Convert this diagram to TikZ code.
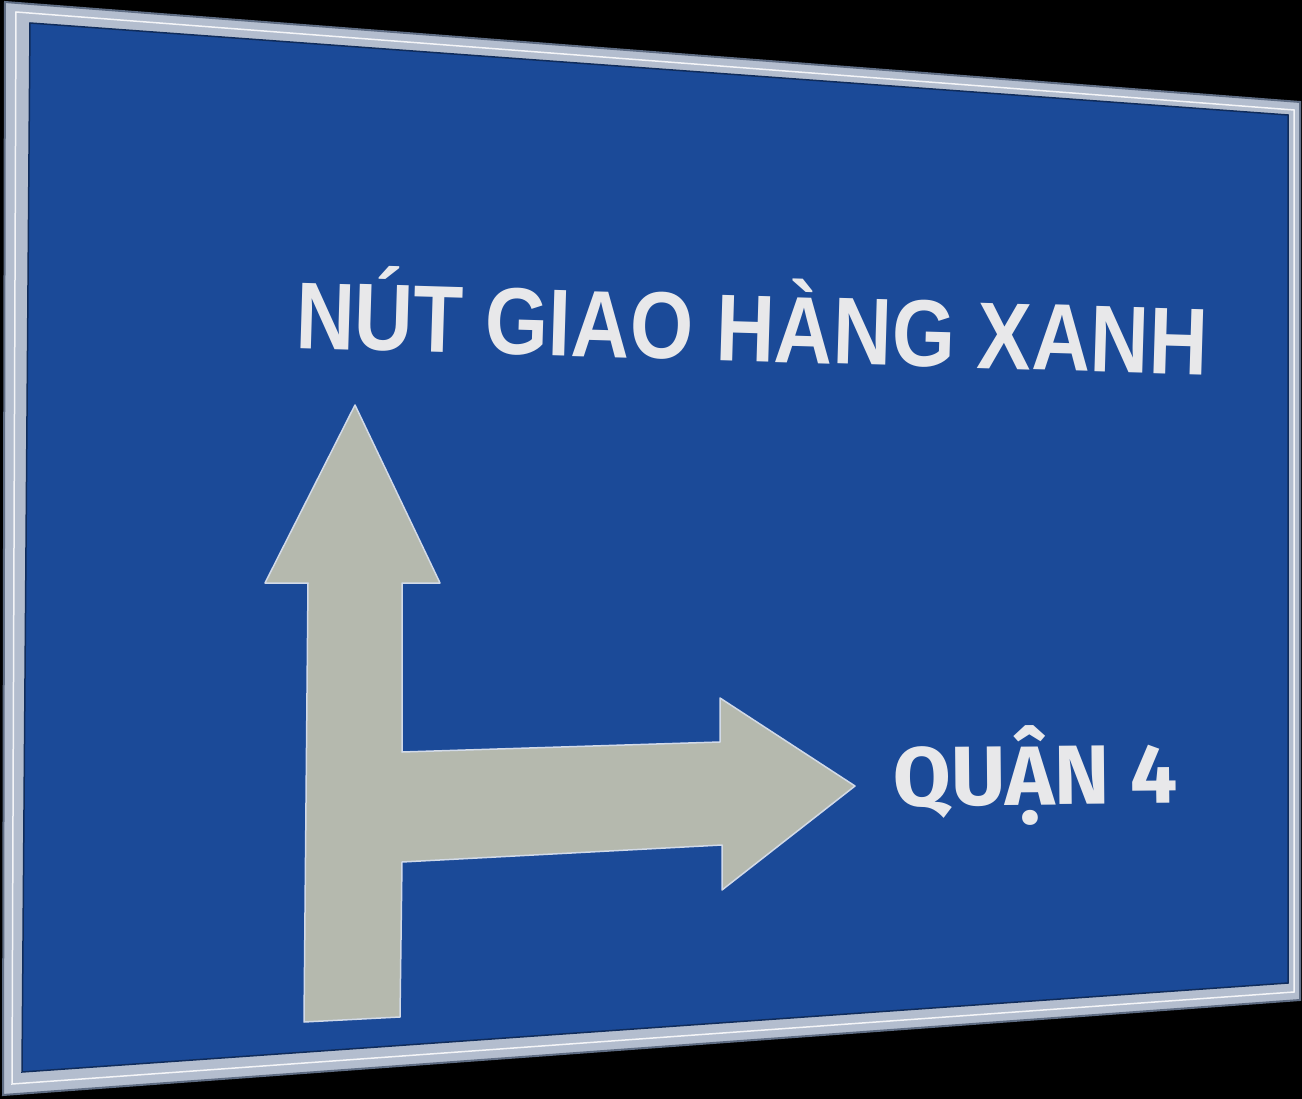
\documentclass[tikz,border=0pt]{standalone}
\usepackage{fontspec}
\newfontfamily\signfont{Liberation Sans}
\newfontfamily\dinfont{Fira Sans}
\definecolor{signblue}{HTML}{1B4A98}
\definecolor{frameface}{HTML}{B3BDCE}
\definecolor{frameedge}{HTML}{5F6D84}
\definecolor{arrowface}{HTML}{B5B9AE}
\definecolor{arrowedge}{HTML}{D2DAE8}
\definecolor{letter}{HTML}{E8E8EA}
\begin{document}
\begin{tikzpicture}[x=1pt,y=-1pt,
    signtext/.style={inner sep=0pt,anchor=base west,text=letter,font=\bfseries}]
\useasboundingbox (0,0) rectangle (1302,1099);
\fill[black] (0,0) rectangle (1302,1099);
% frame and face of the sign
\filldraw[fill=frameface,draw=frameedge,line width=2pt] (5,2) -- (1300,102) -- (1300,1000) -- (3,1095) -- cycle;
\draw[white!85!frameface,line width=1.5pt] (16,12) -- (1294,110) -- (1294,992) -- (12,1084) -- cycle;
\filldraw[fill=signblue,draw=signblue!60!black,line width=1.5pt] (30,23) -- (1288,115) -- (1288,983) -- (22,1072) -- cycle;
% arrow: straight on and to the right
\filldraw[fill=arrowface,draw=arrowedge,line width=1.5pt,line join=round]
    (304,1022) -- (308,583) -- (265,583) -- (355,405) -- (440,583) -- (402,583)
    -- (402,752) -- (720,742) -- (720,698) -- (855,786) -- (722,890) -- (722,845)
    -- (402,862) -- (400,1017) -- cycle;
% destinations
\node[signtext,rotate=-1.7,xscale=0.856] (hangxanh) at (295,348)
    {\signfont\fontsize{95}{95}\selectfont NÚT GIAO HÀNG XANH};
\node[signtext,rotate=0.5] (quan4) at (893,806)
    {\dinfont\fontsize{84}{84}\selectfont QUẬN 4};
\end{tikzpicture}
\end{document}
